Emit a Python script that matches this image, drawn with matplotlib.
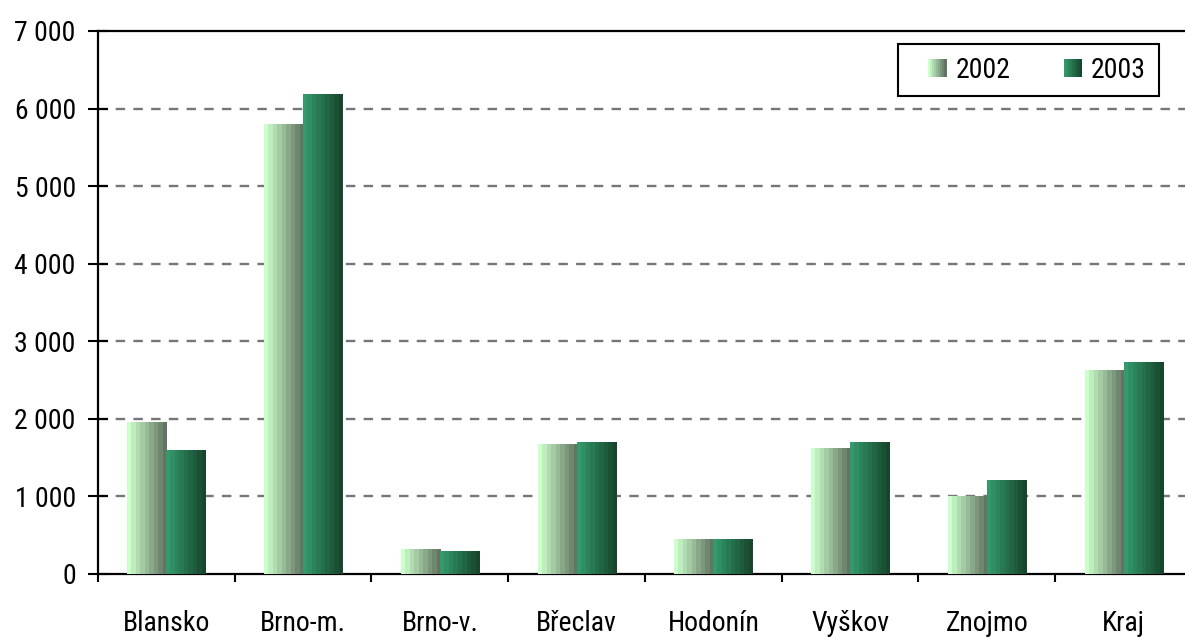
import matplotlib
matplotlib.use("Agg")
import matplotlib.pyplot as plt
import numpy as np
from matplotlib.patches import Rectangle
from matplotlib.legend_handler import HandlerBase
from matplotlib.colors import to_rgb
from matplotlib import font_manager

names = {f.name for f in font_manager.fontManager.ttflist}
narrow = None
for cand in ["Liberation Sans Narrow", "Arial Narrow", "Roboto Condensed", "Open Sans Condensed"]:
    if cand in names:
        narrow = cand
        break
if narrow:
    plt.rcParams['font.family'] = [narrow, 'DejaVu Sans']
    FS = 20
else:
    plt.rcParams['font.family'] = ['Liberation Sans', 'DejaVu Sans']
    FS = 18

categories = ["Blansko", "Brno-m.", "Brno-v.", "Břeclav", "Hodonín", "Vyškov", "Znojmo", "Kraj"]
values_2002 = [1950, 5800, 320, 1665, 450, 1615, 995, 2620]
values_2003 = [1590, 6185, 295, 1690, 450, 1690, 1200, 2725]
series_names = ["2002", "2003"]
y_ticks = [0, 1000, 2000, 3000, 4000, 5000, 6000, 7000]
y_tick_labels = ["0", "1 000", "2 000", "3 000", "4 000", "5 000", "6 000", "7 000"]

grad_2002 = ("#CCFFCC", "#627562")
grad_2003 = ("#349A6C", "#17462D")
NSTEPS = 9

def stripe_colors(c0, c1, n):
    a = np.array(to_rgb(c0)); b = np.array(to_rgb(c1))
    return [tuple(a + (b - a) * k / (n - 1)) for k in range(n)]

W, H = 1185, 638
fig = plt.figure(figsize=(W / 100, H / 100), dpi=100)
ax = fig.add_axes([98 / W, (H - 574) / H, (1192 - 98) / W, (574 - 31) / H])

bw = 0.2857

def grad_bar(x0, width, height, grad):
    cols = stripe_colors(grad[0], grad[1], NSTEPS)
    img = np.array(cols).reshape(1, NSTEPS, 3)
    ax.imshow(img, extent=(x0, x0 + width, 0, height), aspect='auto',
              interpolation='nearest', zorder=3)

for i, (v2, v3) in enumerate(zip(values_2002, values_2003)):
    c = i + 0.5
    grad_bar(c - bw, bw, v2, grad_2002)
    grad_bar(c, bw, v3, grad_2003)

ax.set_xlim(0, len(categories))
ax.set_ylim(0, 7000)
ax.set_aspect('auto')

for y in y_ticks[1:-1]:
    ax.axhline(y, color="#767676", lw=1.7, linestyle=(0, (4, 3.5)), zorder=1)

ax.set_yticks(y_ticks)
ax.set_yticklabels(y_tick_labels)
ax.set_xticks(np.arange(0, len(categories) + 1))
ax.set_xticklabels([])
ax.set_xticks(np.arange(len(categories)) + 0.5, minor=True)
ax.set_xticklabels(categories, minor=True)
ax.tick_params(axis='x', which='minor', length=0, pad=26, labelsize=FS)
ax.tick_params(axis='x', which='major', direction='out', length=6, width=1.5)
ax.tick_params(axis='y', direction='inout', length=14, width=1.5, pad=9, labelsize=FS)

for s in ['left', 'bottom', 'top']:
    ax.spines[s].set_linewidth(1.6)
    ax.spines[s].set_color('black')
ax.spines['right'].set_visible(False)

class GradHandler(HandlerBase):
    def __init__(self, grad):
        super().__init__()
        self.grad = grad
    def create_artists(self, legend, orig_handle, xdescent, ydescent, width, height, fontsize, trans):
        cols = stripe_colors(self.grad[0], self.grad[1], NSTEPS)
        size = min(width, height)
        x0 = -xdescent + (width - size)
        y0 = -ydescent + (height - size) / 2
        arts = []
        for k, col in enumerate(cols):
            r = Rectangle((x0 + size * k / NSTEPS, y0), size / NSTEPS * 1.05, size,
                          facecolor=col, edgecolor='none', transform=trans)
            arts.append(r)
        return arts

h1 = Rectangle((0, 0), 1, 1)
h2 = Rectangle((0, 0), 1, 1)
leg = ax.legend([h1, h2], series_names, ncol=2, loc='upper right',
                bbox_to_anchor=(0.9695, 0.976), fontsize=FS, frameon=True,
                fancybox=False, edgecolor='black', framealpha=1,
                handler_map={h1: GradHandler(grad_2002), h2: GradHandler(grad_2003)},
                handlelength=1.28, handleheight=0.65, handletextpad=0.32,
                columnspacing=1.31, borderpad=0.45, borderaxespad=0)
leg.get_frame().set_linewidth(1.5)
leg.set_zorder(5)

fig.savefig("out.png", dpi=100)
